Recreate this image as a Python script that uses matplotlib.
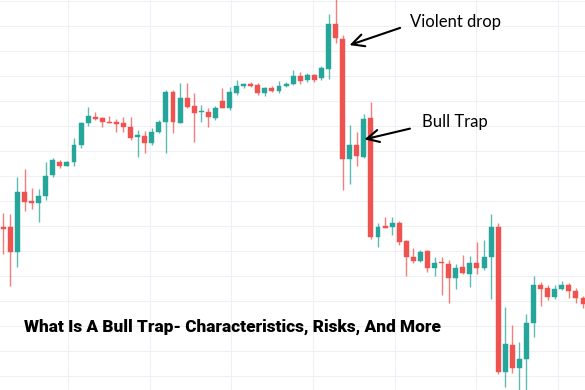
import matplotlib
matplotlib.use("Agg")
import matplotlib.pyplot as plt
import numpy as np

# OHLC (arbitrary price units)
opens = [172.5, 173.3, 148.3, 208.3, 199.0, 196.7, 204.0, 225.0, 238.3, 234.3,
         238.3, 255.0, 276.7, 283.3, 281.7, 278.3, 278.0, 276.7, 272.7, 262.7,
         264.0, 256.7, 268.3, 278.3, 308.3, 277.3, 301.7, 294.0, 287.7, 288.3,
         281.7, 299.3, 291.7, 307.3, 314.0, 315.7, 315.0, 306.7, 312.3, 309.3,
         314.0, 316.0, 324.0, 320.0, 325.0, 321.7, 331.0, 376.0, 361.0, 240.7,
         255.0, 243.3, 281.7, 163.3, 174.3, 173.3, 177.3, 159.3, 143.3, 139.0,
         149.3, 131.7, 138.3, 136.0, 121.7, 132.7, 126.5, 136.7, 132.0, 143.3,
         173.3, 28.3, 55.0, 31.7, 40.7, 77.3, 115.0, 111.7, 103.3, 110.7,
         115.0, 109.3, 101.7]
highs = [187.3, 185.7, 223.3, 230.7, 212.3, 210.7, 238.3, 241.7, 240.0, 239.5,
         261.7, 278.3, 293.3, 287.7, 283.3, 284.0, 280.7, 283.3, 283.3, 270.0,
         269.3, 271.7, 280.0, 310.0, 310.0, 316.7, 317.3, 306.7, 295.0, 291.7,
         294.0, 311.7, 313.3, 320.0, 316.7, 318.3, 316.7, 312.7, 314.0, 319.3,
         318.0, 330.0, 328.3, 327.3, 326.0, 334.0, 386.0, 403.0, 365.0, 275.0,
         268.3, 286.0, 298.3, 176.7, 183.3, 182.7, 179.0, 160.0, 151.7, 150.0,
         150.0, 143.3, 143.3, 140.0, 136.0, 145.0, 144.0, 158.3, 160.0, 186.0,
         177.3, 92.7, 75.0, 58.3, 86.0, 124.0, 118.3, 115.0, 115.0, 119.3,
         117.3, 111.7, 104.0]
lows = [146.0, 114.0, 132.7, 189.3, 191.0, 178.3, 200.0, 223.3, 231.7, 234.0,
        234.0, 251.7, 274.0, 280.0, 273.3, 276.7, 268.3, 268.3, 260.0, 242.7,
        247.3, 255.0, 267.0, 246.7, 266.7, 276.7, 291.7, 258.3, 278.3, 273.3,
        280.0, 291.7, 290.0, 305.0, 311.7, 312.7, 305.0, 304.0, 307.7, 307.3,
        313.0, 315.0, 316.0, 318.3, 318.3, 320.0, 320.7, 356.7, 210.0, 216.0,
        234.0, 241.7, 160.7, 152.7, 171.7, 165.0, 155.0, 124.0, 136.7, 138.0,
        128.0, 124.0, 105.0, 96.7, 110.7, 126.5, 112.7, 126.5, 130.0, 100.7,
        26.0, 12.7, 26.7, 10.0, 10.0, 62.7, 94.0, 100.0, 100.7, 110.0,
        102.0, 97.3, 92.0]
closes = [171.5, 148.3, 208.3, 198.3, 196.7, 204.0, 224.3, 240.0, 234.0, 238.3,
          255.0, 277.3, 284.3, 281.0, 277.7, 277.3, 276.0, 273.3, 261.7, 265.0,
          256.7, 268.3, 278.3, 308.3, 278.3, 301.7, 293.3, 287.3, 289.3, 282.7,
          291.7, 292.3, 308.3, 314.0, 316.0, 314.3, 306.7, 311.7, 309.3, 314.0,
          315.7, 324.0, 319.3, 325.0, 320.0, 331.7, 376.0, 361.7, 240.7, 255.0,
          244.0, 280.7, 163.3, 173.3, 172.3, 176.7, 158.3, 143.3, 139.0, 148.3,
          131.7, 137.3, 136.7, 121.7, 132.3, 126.7, 136.7, 132.3, 143.5, 173.3,
          28.3, 56.0, 31.7, 40.7, 77.3, 115.0, 110.7, 103.3, 110.7, 115.0,
          109.3, 101.7, 96.0]

title = "What Is A Bull Trap- Characteristics, Risks, And More"

up_col = "#26a69a"
down_col = "#ef5350"

o = np.array(opens); h = np.array(highs); l = np.array(lows); c = np.array(closes)
idx = np.arange(len(o))
up = c >= o
cols = np.where(up, up_col, down_col)
body_lo = np.minimum(o, c)
body_h = np.maximum(np.abs(c - o), 1.2)

fig = plt.figure(figsize=(5.85, 3.9), dpi=100)
ax = fig.add_axes([0, 0, 1, 1])

# light grid like the trading chart
ax.set_xticks(np.arange(9.15, 83, 11.55))
ax.set_yticks(np.arange(24.3, 400, 25))
ax.grid(True, color="#eef0f5", lw=0.8)
ax.set_axisbelow(True)

ax.vlines(idx, l, h, colors=cols, lw=1.0, alpha=0.75)
ax.bar(idx, body_h, bottom=body_lo, width=0.7, color=cols, edgecolor=cols, lw=0.3)

ax.set_xlim(-0.467, 82.28)
ax.set_ylim(10, 400)
ax.tick_params(left=False, bottom=False, labelleft=False, labelbottom=False)
for s in ax.spines.values():
    s.set_visible(False)

arrow = dict(arrowstyle="->", color="black", lw=1.5, mutation_scale=22)
ax.annotate("", xy=(48.6, 354), xytext=(56.5, 373), arrowprops=arrow)
ax.text(57.5, 378, "Violent drop", fontsize=12, family="Lato", va="center", ha="left")
ax.annotate("", xy=(50.7, 260), xytext=(57.9, 272), arrowprops=arrow)
ax.text(59.2, 278, "Bull Trap", fontsize=12, family="Lato", va="center", ha="left")

fig.text(24 / 585, 1 - 327 / 390, title, fontsize=12.4, family="Roboto",
         fontweight="black", va="center", ha="left", color="black")

fig.savefig("out.png", dpi=100)
